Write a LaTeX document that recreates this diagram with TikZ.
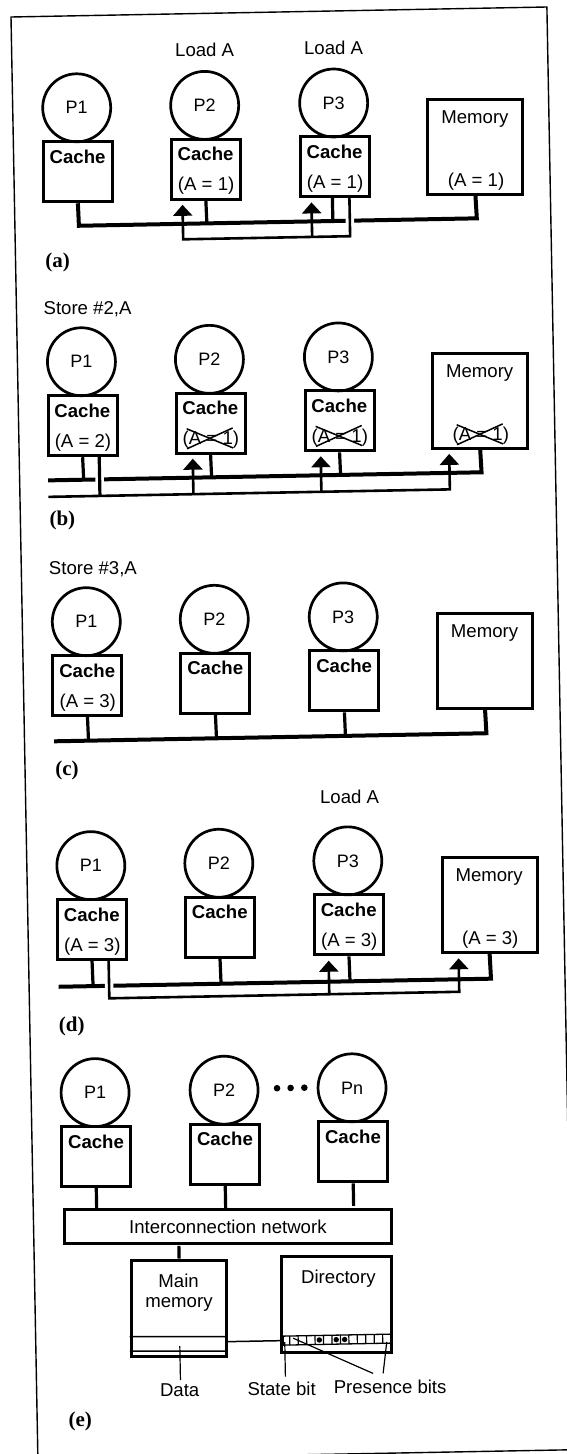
\documentclass[tikz,border=0pt]{standalone}
\usepackage{fontspec}
\setmainfont{Liberation Sans}
\newfontfamily\figcapfont{Liberation Serif}
\usetikzlibrary{arrows.meta, calc}

\newcommand{\lblfont}{\fontsize{18.6}{19}\selectfont}

\begin{document}
\begin{tikzpicture}[x=1pt, y=-1pt,
  >={Triangle[length=11pt, width=19pt]},
  proc/.style={circle, draw, line width=2.7pt, minimum size=68pt, inner sep=0pt,
    font=\fontsize{18}{18}\selectfont},
  cache/.style={draw, line width=3pt, minimum width=69pt, minimum height=60pt, inner sep=0pt},
  mem/.style={draw, line width=3pt, minimum width=95pt, minimum height=95pt, inner sep=0pt},
  txt/.style={font=\lblfont, inner sep=0pt, text height=13pt, text depth=0pt},
  btxt/.style={txt, font=\lblfont\bfseries},
  figcap/.style={font=\fontsize{21}{22}\figcapfont\bfseries, inner sep=0pt, text height=14pt, text depth=0pt},
  bus/.style={line width=4pt},
  stub/.style={line width=3.2pt},
  feed/.style={line width=2.6pt},
  up/.style={feed, ->},
  gap/.style={white, line width=8.5pt},
  strike/.style={line width=1.5pt},
  lead/.style={line width=1.2pt},
  bitdot/.style={circle, fill, minimum size=6.6pt, inner sep=0pt}]

\useasboundingbox (0,0) rectangle (566,1454);

% the scanned page is turned by about one degree
\begin{scope}[rotate around={1.07:(11,17)}]

% Frame
\draw[line width=1.4pt] (11,17) -- (547,17) -- (547,1460) -- (11,1460) -- cycle;

% ================================================================
% (a) P2 and P3 load A
% ================================================================
\begin{scope}[shift={(0,143)}]

\node[txt] (a-ld2) at (204,-89) {Load A};
\node[txt] (a-ld3) at (333,-89) {Load A};

\node[cache] (a-c1) at (75,30) {};
\node[cache] (a-c2) at (203,30) {};
\node[cache] (a-c3) at (332,30) {};
\node[proc] (a-p1) at (75,-34) {P1};
\node[proc] (a-p2) at (203,-34) {P2};
\node[proc] (a-p3) at (332,-34) {P3};
\node[btxt] (a-c1t) at (75,15) {Cache};
\node[btxt] (a-c2t) at (203,15) {Cache};
\node[txt] (a-c2v) at (203,45) {(A = 1)};
\node[btxt] (a-c3t) at (332,15) {Cache};
\node[txt] (a-c3v) at (332,45) {(A = 1)};

\node[mem] (a-m) at (473,12.5) {};
\node[txt] (a-mt) at (473,-17) {Memory};
\node[txt] (a-mv) at (473,46) {(A = 1)};

% bus
\coordinate (a-b1) at (75,84);
\coordinate (a-b2) at (203,84);
\coordinate (a-b3) at (329,84);
\coordinate (a-bm) at (473,84);
\coordinate (a-s3) at (329,60);
\draw[bus] (a-c1.south) -- (a-b1) -- (a-bm) -- (a-m.south);
\draw[stub] (a-c2.south) -- (a-b2);
\draw[stub] (a-s3) -- (a-b3);

% data sent back from P3
\coordinate (a-r3) at (346,60);
\coordinate (a-l3) at (346,99.5);
\coordinate (a-l2) at (179,99.5);
\coordinate (a-u2) at (179,65);
\coordinate (a-x3) at (308,99.5);
\coordinate (a-u3) at (308,65);
\coordinate (a-g1) at (346,79);
\coordinate (a-g2) at (346,89);
\draw[gap] (a-g1) -- (a-g2);
\draw[up] (a-r3) -- (a-l3) -- (a-l2) -- (a-u2);
\draw[up] (a-x3) -- (a-u3);

\node[figcap] (a-cap) at (53,118) {(a)};
\end{scope}

% ================================================================
% (b) P1 stores 2 into A
% ================================================================
\begin{scope}[shift={(0,397)}]

\node[txt, anchor=west] (b-op) at (38,-88.5) {Store \#2,A};

\node[cache] (b-c1) at (75,30) {};
\node[cache] (b-c2) at (203,30) {};
\node[cache] (b-c3) at (332,30) {};
\node[proc] (b-p1) at (75,-34) {P1};
\node[proc] (b-p2) at (203,-34) {P2};
\node[proc] (b-p3) at (332,-34) {P3};
\node[btxt] (b-c1t) at (75,15) {Cache};
\node[txt] (b-c1v) at (75,45) {(A = 2)};
\node[btxt] (b-c2t) at (203,15) {Cache};
\node[txt] (b-c2v) at (203,45) {(A = 1)};
\node[btxt] (b-c3t) at (332,15) {Cache};
\node[txt] (b-c3v) at (332,45) {(A = 1)};

\node[mem] (b-m) at (473,12.5) {};
\node[txt] (b-mt) at (473,-17) {Memory};
\node[txt] (b-mv) at (473,46) {(A = 1)};

% old values crossed out
\draw[strike] ($(b-c2v)+(-24,-10)$) -- ($(b-c2v)+(22,10)$);
\draw[strike] ($(b-c2v)+(-24,10)$) -- ($(b-c2v)+(22,-10)$);
\draw[strike] ($(b-c3v)+(-24,-10)$) -- ($(b-c3v)+(22,10)$);
\draw[strike] ($(b-c3v)+(-24,10)$) -- ($(b-c3v)+(22,-10)$);
\draw[strike] ($(b-mv)+(-24,-10)$) -- ($(b-mv)+(22,10)$);
\draw[strike] ($(b-mv)+(-24,10)$) -- ($(b-mv)+(22,-10)$);

% bus
\coordinate (b-b0) at (39.5,84);
\coordinate (b-b1) at (75,84);
\coordinate (b-b2) at (203,84);
\coordinate (b-b3) at (332,84);
\coordinate (b-bm) at (473,84);
\draw[bus] (b-b0) -- (b-bm) -- (b-m.south);
\draw[stub] (b-c1.south) -- (b-b1);
\draw[stub] (b-c2.south) -- (b-b2);
\draw[stub] (b-c3.south) -- (b-b3);

% invalidate line from P1
\coordinate (b-r1) at (91,60);
\coordinate (b-l1) at (91,100.5);
\coordinate (b-g1) at (91,79);
\coordinate (b-g2) at (91,89);
\coordinate (b-l0) at (39.5,100.5);
\coordinate (b-lm) at (441,100.5);
\coordinate (b-um) at (441,65);
\coordinate (b-x2) at (184.5,100.5);
\coordinate (b-u2) at (184.5,65);
\coordinate (b-x3) at (312.5,100.5);
\coordinate (b-u3) at (312.5,65);
\draw[gap] (b-g1) -- (b-g2);
\draw[stub] (b-r1) -- (b-l1);
\draw[up] (b-l0) -- (b-lm) -- (b-um);
\draw[up] (b-x2) -- (b-u2);
\draw[up] (b-x3) -- (b-u3);

\node[figcap] (b-cap) at (53,122) {(b)};
\end{scope}

% ================================================================
% (c) P1 stores 3 into A
% ================================================================
\begin{scope}[shift={(0,657)}]

\node[txt, anchor=west] (c-op) at (38.5,-88.5) {Store \#3,A};

\node[cache] (c-c1) at (75,30) {};
\node[cache] (c-c2) at (203,30) {};
\node[cache] (c-c3) at (332,30) {};
\node[proc] (c-p1) at (75,-34) {P1};
\node[proc] (c-p2) at (203,-34) {P2};
\node[proc] (c-p3) at (332,-34) {P3};
\node[btxt] (c-c1t) at (75,15) {Cache};
\node[txt] (c-c1v) at (75,45) {(A = 3)};
\node[btxt] (c-c2t) at (203,15) {Cache};
\node[btxt] (c-c3t) at (332,15) {Cache};

\node[mem] (c-m) at (473,12.5) {};
\node[txt] (c-mt) at (473,-17) {Memory};

% bus
\coordinate (c-b0) at (40.5,85);
\coordinate (c-b1) at (75,85);
\coordinate (c-b2) at (203,85);
\coordinate (c-b3) at (332,85);
\coordinate (c-bm) at (473,85);
\draw[bus] (c-b0) -- (c-bm) -- (c-m.south);
\draw[stub] (c-c1.south) -- (c-b1);
\draw[stub] (c-c2.south) -- (c-b2);
\draw[stub] (c-c3.south) -- (c-b3);

\node[figcap] (c-cap) at (53,112) {(c)};
\end{scope}

% ================================================================
% (d) P3 loads A again
% ================================================================
\begin{scope}[shift={(0,901)}]

\node[txt] (d-ld3) at (335,-98) {Load A};

\node[cache] (d-c1) at (75,30) {};
\node[cache] (d-c2) at (203,30) {};
\node[cache] (d-c3) at (332,30) {};
\node[proc] (d-p1) at (75,-34) {P1};
\node[proc] (d-p2) at (203,-34) {P2};
\node[proc] (d-p3) at (332,-34) {P3};
\node[btxt] (d-c1t) at (75,15) {Cache};
\node[txt] (d-c1v) at (75,45) {(A = 3)};
\node[btxt] (d-c2t) at (203,15) {Cache};
\node[btxt] (d-c3t) at (332,15) {Cache};
\node[txt] (d-c3v) at (332,45) {(A = 3)};

\node[mem] (d-m) at (473,12.5) {};
\node[txt] (d-mt) at (473,-17) {Memory};
\node[txt] (d-mv) at (473,46) {(A = 3)};

% bus
\coordinate (d-b0) at (40.5,86.5);
\coordinate (d-b1) at (75,86.5);
\coordinate (d-b2) at (203,86.5);
\coordinate (d-b3) at (332,86.5);
\coordinate (d-bm) at (473,86.5);
\draw[bus] (d-b0) -- (d-bm) -- (d-m.south);
\draw[stub] (d-c1.south) -- (d-b1);
\draw[stub] (d-c2.south) -- (d-b2);
\draw[stub] (d-c3.south) -- (d-b3);

% write-back from P1
\coordinate (d-r1) at (91,60);
\coordinate (d-l1) at (91,99);
\coordinate (d-g1) at (91,81.5);
\coordinate (d-g2) at (91,91.5);
\coordinate (d-lm) at (441,99);
\coordinate (d-um) at (441,65.5);
\coordinate (d-x3) at (311,99);
\coordinate (d-u3) at (311,65.5);
\draw[gap] (d-g1) -- (d-g2);
\draw[up] (d-r1) -- (d-l1) -- (d-lm) -- (d-um);
\draw[up] (d-x3) -- (d-u3);

\node[figcap] (d-cap) at (53,124) {(d)};
\end{scope}

% ================================================================
% (e) directory scheme
% ================================================================
\begin{scope}[shift={(0,1128)}]

\node[cache] (e-c1) at (75,30) {};
\node[cache] (e-c2) at (204,30) {};
\node[cache] (e-c3) at (332,30) {};
\node[proc] (e-p1) at (75,-34) {P1};
\node[proc] (e-p2) at (204,-34) {P2};
\node[proc] (e-p3) at (332,-34) {Pn};
\node[btxt] (e-c1t) at (75,15) {Cache};
\node[btxt] (e-c2t) at (204,15) {Cache};
\node[btxt] (e-c3t) at (332,15) {Cache};

% dots between P2 and Pn
\node[bitdot] (e-d1) at (257,-35) {};
\node[bitdot] (e-d2) at (270.6,-35) {};
\node[bitdot] (e-d3) at (284.3,-35) {};

\node[draw, line width=2.8pt, minimum width=326.5pt, minimum height=34pt, txt]
  (e-net) at (205.25,102.5) {Interconnection network};
\draw[stub] (e-c1.south) -- (e-c1.south |- e-net.north);
\draw[stub] (e-c2.south) -- (e-c2.south |- e-net.north);
\draw[stub] (e-c3.south) -- (e-c3.south |- e-net.north);

% main memory
\node[mem, minimum height=96pt] (e-mm) at (155,183) {};
\node[txt] (e-mm1) at (155,156) {Main};
\node[txt] (e-mm2) at (155,176) {memory};
\draw[stub] (e-net.south -| e-mm.north) -- (e-mm.north);
\draw[line width=1.5pt] ($(e-mm.south west)+(0,-21)$) -- ($(e-mm.south east)+(0,-21)$);
\draw[line width=1.5pt] ($(e-mm.south west)+(0,-6.5)$) -- ($(e-mm.south east)+(0,-6.5)$);

% directory with its state and presence bits
\node[mem, minimum width=110.7pt, minimum height=95.5pt] (e-dir) at (312.35,182.25) {};
\node[txt] (e-dirt) at (314.8,155.3) {Directory};
\draw[line width=1.3pt] (258.5,213) rectangle (366.4,222);
\draw[lead] (265,213) -- (265,222) (273.45,213) -- (273.45,222)
  (281.9,213) -- (281.9,222) (290.35,213) -- (290.35,222)
  (298.8,213) -- (298.8,222) (307.25,213) -- (307.25,222)
  (315.7,213) -- (315.7,222) (324.15,213) -- (324.15,222)
  (332.6,213) -- (332.6,222) (341.05,213) -- (341.05,222)
  (349.5,213) -- (349.5,222) (357.95,213) -- (357.95,222);
\fill (294.6,217.5) circle (2.7pt);
\fill (311.5,217.5) circle (2.7pt);
\fill (319.9,217.5) circle (2.7pt);

% memory block to its directory entry
\coordinate (e-mmr) at (202.5,217.5);
\coordinate (e-dsl) at (258.5,217.5);
\draw[line width=1.5pt] (e-mmr) -- (e-dsl);

% labels and leaders
\node[txt] (e-datl) at (154,265) {Data};
\node[txt] (e-stbl) at (256,266.3) {State bit};
\node[txt] (e-prbl) at (364.5,266.3) {Presence bits};
\coordinate (e-dat) at (155,221);
\coordinate (e-date) at (155,255);
\coordinate (e-stb) at (260,219);
\coordinate (e-stbe) at (260,253.5);
\coordinate (e-pb1) at (268.4,215.2);
\coordinate (e-pe1) at (347.8,252);
\coordinate (e-pb2) at (362,220.7);
\coordinate (e-pe2) at (357.8,252);
\draw[lead] (e-dat) -- (e-date);
\draw[lead] (e-stb) -- (e-stbe);
\draw[lead] (e-pb1) -- (e-pe1);
\draw[lead] (e-pb2) -- (e-pe2);

\node[figcap] (e-cap) at (54,293) {(e)};
\end{scope}

\end{scope}
\end{tikzpicture}
\end{document}
